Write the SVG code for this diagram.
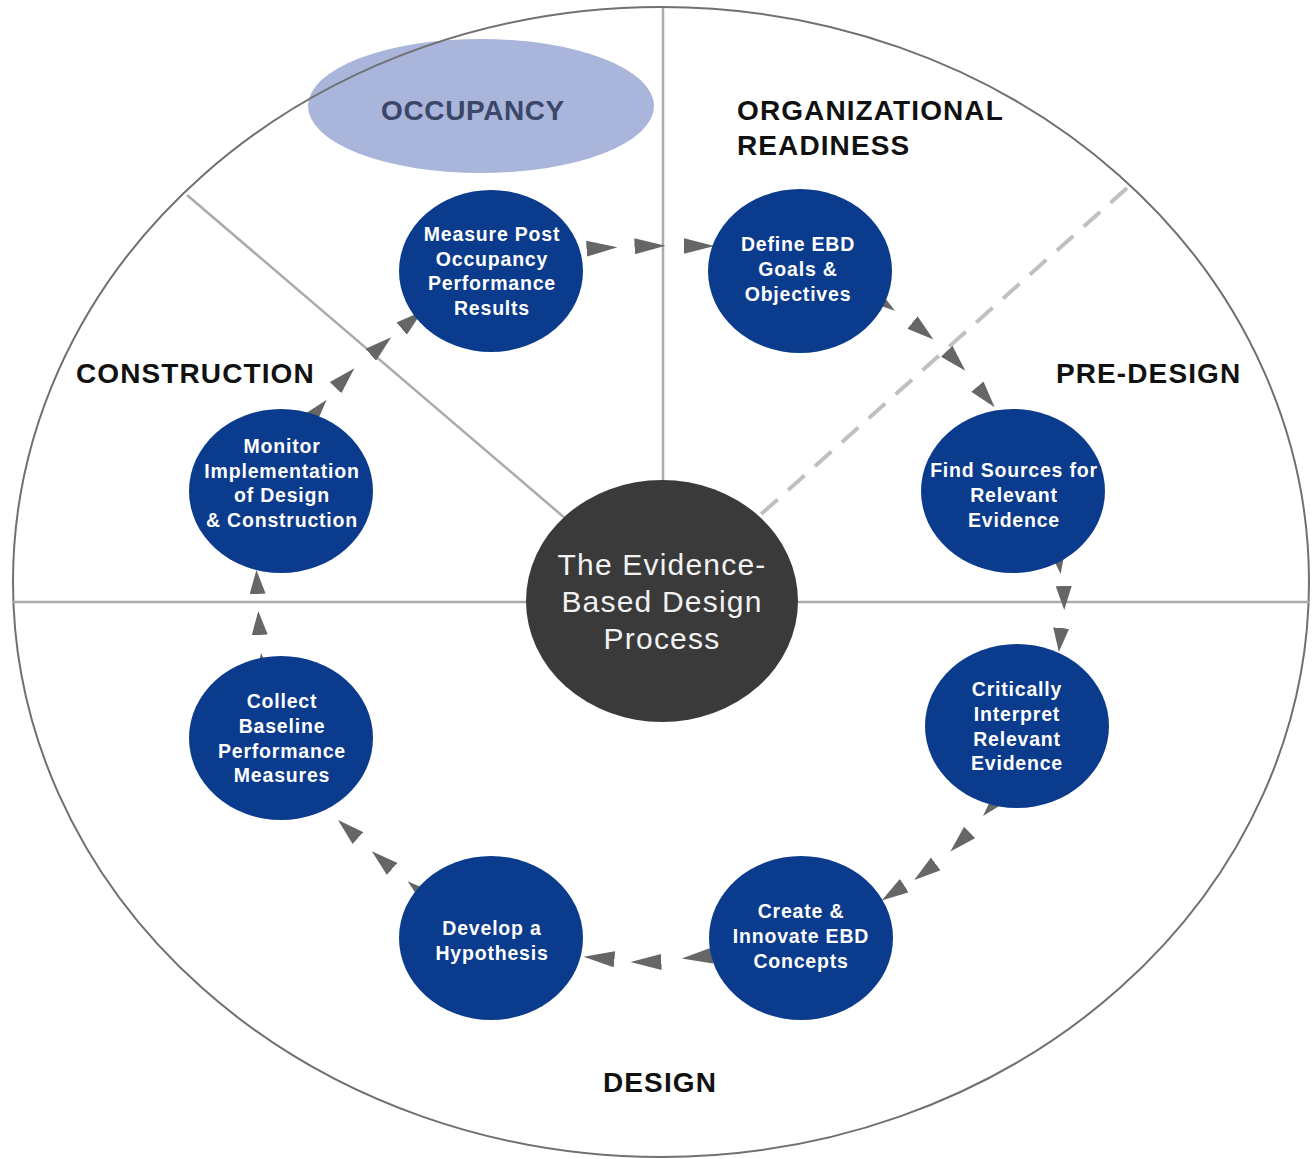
<svg xmlns="http://www.w3.org/2000/svg" width="1312" height="1159" viewBox="0 0 1312 1159">
  <style>
    .node { fill: #0b3b8c; }
    .ntext { font-family: "Liberation Sans", Arial, sans-serif; font-weight: bold; font-size: 19.5px; fill: #ffffff; text-anchor: middle; letter-spacing: 0.8px; }
    .phase { font-family: "Liberation Sans", Arial, sans-serif; font-weight: bold; font-size: 28px; fill: #111111; letter-spacing: 1.1px; }
    .divider { stroke: #ababab; stroke-width: 2.5; fill: none; }
    .conn { fill: none; stroke: none; }
    .ctext { font-family: "Liberation Sans", Arial, sans-serif; font-size: 30px; fill: #f2f2f2; text-anchor: middle; letter-spacing: 1.2px; }
  </style>
  <defs>
    <marker id="arrH" markerUnits="userSpaceOnUse" markerWidth="31" markerHeight="16" viewBox="0 0 31 16" refX="15.5" refY="8" orient="auto">
      <path d="M0,0 L31,8 L0,16 Z" fill="#666666"/>
    </marker>
    <marker id="arrD" markerUnits="userSpaceOnUse" markerWidth="27" markerHeight="16" viewBox="0 0 27 16" refX="13.5" refY="8" orient="auto">
      <path d="M0,0 L27,8 L0,16 Z" fill="#666666"/>
    </marker>
    <marker id="arrV" markerUnits="userSpaceOnUse" markerWidth="24" markerHeight="16" viewBox="0 0 24 16" refX="12" refY="8" orient="auto">
      <path d="M0,0 L24,8 L0,16 Z" fill="#666666"/>
    </marker>
  </defs>

  <rect x="0" y="0" width="1312" height="1159" fill="#ffffff"/>

  <g id="occupancy-phase">
    <ellipse cx="481" cy="106" rx="173" ry="67" fill="#a9b5da"/>
  </g>

  <g id="frame">
    <ellipse cx="661" cy="582" rx="648" ry="575" fill="none" stroke="#707070" stroke-width="2"/>
    <line class="divider" x1="663" y1="8" x2="663" y2="500"/>
    <line class="divider" x1="13" y1="602" x2="1309" y2="602"/>
    <line class="divider" x1="187" y1="195" x2="580" y2="531"/>
    <line x1="1127" y1="188" x2="740" y2="533" stroke="#c0c0c0" stroke-width="4" stroke-dasharray="22 14" fill="none"/>
  </g>

  <g id="connectors">
    <path class="conn" d="M602,248 L650,246 L699,246" marker-start="url(#arrH)" marker-mid="url(#arrH)" marker-end="url(#arrH)"/>
    <path class="conn" d="M884,303 L923,331 L956,361 L986,397" marker-start="url(#arrD)" marker-mid="url(#arrD)" marker-end="url(#arrD)"/>
    <path class="conn" d="M1059,562 L1064,598 L1060,640" marker-start="url(#arrV)" marker-mid="url(#arrV)" marker-end="url(#arrV)"/>
    <path class="conn" d="M992,806 L960,842 L925,872 L893,893" marker-start="url(#arrD)" marker-mid="url(#arrD)" marker-end="url(#arrD)"/>
    <path class="conn" d="M697,957 L646,962 L599,958" marker-start="url(#arrH)" marker-mid="url(#arrH)" marker-end="url(#arrH)"/>
    <path class="conn" d="M418,890 L382,860 L348,829" marker-start="url(#arrD)" marker-mid="url(#arrD)" marker-end="url(#arrD)"/>
    <path class="conn" d="M262,665 L259,623 L257,582" marker-start="url(#arrV)" marker-mid="url(#arrV)" marker-end="url(#arrV)"/>
    <path class="conn" d="M318,410 L345,378 L381,346 L412,320" marker-start="url(#arrD)" marker-mid="url(#arrD)" marker-end="url(#arrD)"/>
  </g>

  <g id="center">
    <ellipse cx="662" cy="601" rx="136" ry="121" fill="#3a3a3a"/>
    <text class="ctext" x="662" y="575">The Evidence-</text>
    <text class="ctext" x="662" y="612">Based Design</text>
    <text class="ctext" x="662" y="649">Process</text>
  </g>

  <g id="node-measure">
    <ellipse class="node" cx="491" cy="271" rx="92" ry="81"/>
    <text class="ntext" x="492" y="241">Measure Post</text>
    <text class="ntext" x="492" y="266">Occupancy</text>
    <text class="ntext" x="492" y="290">Performance</text>
    <text class="ntext" x="492" y="315">Results</text>
  </g>

  <g id="node-define">
    <ellipse class="node" cx="800" cy="271" rx="92" ry="82"/>
    <text class="ntext" x="798" y="251">Define EBD</text>
    <text class="ntext" x="798" y="276">Goals &amp;</text>
    <text class="ntext" x="798" y="301">Objectives</text>
  </g>

  <g id="node-find">
    <ellipse class="node" cx="1013" cy="491" rx="92" ry="82"/>
    <text class="ntext" x="1014" y="477">Find Sources for</text>
    <text class="ntext" x="1014" y="502">Relevant</text>
    <text class="ntext" x="1014" y="527">Evidence</text>
  </g>

  <g id="node-critically">
    <ellipse class="node" cx="1017" cy="726" rx="92" ry="82"/>
    <text class="ntext" x="1017" y="696">Critically</text>
    <text class="ntext" x="1017" y="721">Interpret</text>
    <text class="ntext" x="1017" y="746">Relevant</text>
    <text class="ntext" x="1017" y="770">Evidence</text>
  </g>

  <g id="node-create">
    <ellipse class="node" cx="801" cy="938" rx="92" ry="82"/>
    <text class="ntext" x="801" y="918">Create &amp;</text>
    <text class="ntext" x="801" y="943">Innovate EBD</text>
    <text class="ntext" x="801" y="968">Concepts</text>
  </g>

  <g id="node-develop">
    <ellipse class="node" cx="491" cy="938" rx="92" ry="82"/>
    <text class="ntext" x="492" y="935">Develop a</text>
    <text class="ntext" x="492" y="960">Hypothesis</text>
  </g>

  <g id="node-collect">
    <ellipse class="node" cx="281" cy="738" rx="92" ry="82"/>
    <text class="ntext" x="282" y="708">Collect</text>
    <text class="ntext" x="282" y="733">Baseline</text>
    <text class="ntext" x="282" y="758">Performance</text>
    <text class="ntext" x="282" y="782">Measures</text>
  </g>

  <g id="node-monitor">
    <ellipse class="node" cx="281" cy="491" rx="92" ry="82"/>
    <text class="ntext" x="282" y="453">Monitor</text>
    <text class="ntext" x="282" y="478">Implementation</text>
    <text class="ntext" x="282" y="502">of Design</text>
    <text class="ntext" x="282" y="527">&amp; Construction</text>
  </g>

  <g id="phase-labels">
    <text class="phase" x="473" y="120" text-anchor="middle" fill="#3b4768" style="fill:#3b4768;letter-spacing:0.6px">OCCUPANCY</text>
    <text class="phase" x="737" y="120">ORGANIZATIONAL</text>
    <text class="phase" x="737" y="155">READINESS</text>
    <text class="phase" x="1056" y="383">PRE-DESIGN</text>
    <text class="phase" x="76" y="383">CONSTRUCTION</text>
    <text class="phase" x="660" y="1092" text-anchor="middle">DESIGN</text>
  </g>
</svg>
